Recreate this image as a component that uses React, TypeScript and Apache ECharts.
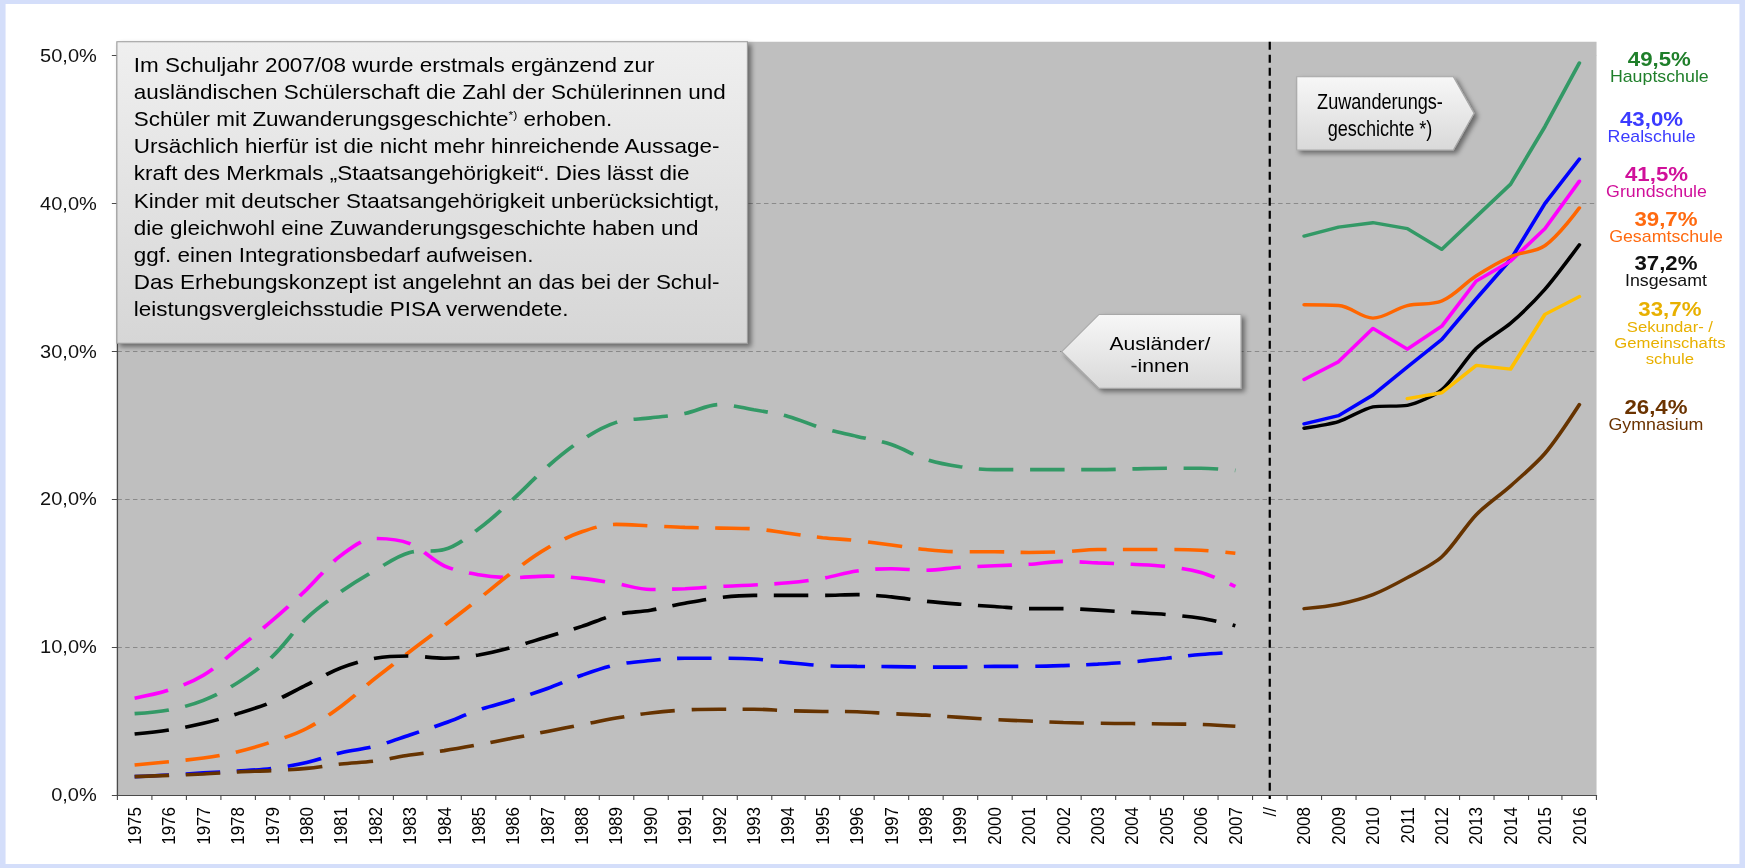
import React, { useEffect, useRef } from 'react';
import * as echarts from 'echarts';

// The reference picture is a 1568px wide chart stretched horizontally to 1745px.
const STRETCH = 1745 / 1568;
const W = 1568;
const H = 868;
const FONT = "'Liberation Sans', Arial, Helvetica, sans-serif";

// ---------- categories ----------
const yearsAuslaender = [
  '1975', '1976', '1977', '1978', '1979', '1980', '1981', '1982', '1983', '1984', '1985',
  '1986', '1987', '1988', '1989', '1990', '1991', '1992', '1993', '1994', '1995', '1996',
  '1997', '1998', '1999', '2000', '2001', '2002', '2003', '2004', '2005', '2006', '2007',
];
const breakLabel = '//';
const yearsZuwanderung = ['2008', '2009', '2010', '2011', '2012', '2013', '2014', '2015', '2016'];
const yearsSekundar = ['2011', '2012', '2013', '2014', '2015', '2016'];

// ---------- values in % : Ausländer/-innen (1975-2007) ----------
const hauptAus = [5.5, 5.75, 6.4, 7.6, 9.35, 11.95, 13.75, 15.2, 16.4, 16.6, 18.0, 20.0, 22.2, 24.0, 25.2, 25.5, 25.8, 26.4, 26.05, 25.6, 24.8, 24.25, 23.7, 22.7, 22.2, 22.0, 22.0, 22.0, 22.0, 22.05, 22.1, 22.1, 21.95];
const realAus = [1.24, 1.35, 1.5, 1.62, 1.8, 2.2, 2.86, 3.3, 4.06, 4.85, 5.75, 6.43, 7.2, 8.1, 8.8, 9.09, 9.25, 9.25, 9.2, 8.95, 8.75, 8.7, 8.68, 8.65, 8.65, 8.7, 8.7, 8.75, 8.85, 9.0, 9.25, 9.5, 9.65];
const grundAus = [6.55, 7.1, 8.1, 9.9, 11.8, 13.9, 16.2, 17.35, 17.0, 15.5, 14.9, 14.7, 14.8, 14.65, 14.3, 13.9, 13.95, 14.1, 14.2, 14.35, 14.65, 15.15, 15.3, 15.2, 15.4, 15.5, 15.6, 15.8, 15.7, 15.6, 15.45, 15.05, 14.1];
const gesamtAus = [2.03, 2.25, 2.5, 2.93, 3.6, 4.5, 6.0, 7.9, 9.7, 11.45, 13.25, 15.1, 16.7, 17.8, 18.3, 18.2, 18.1, 18.05, 18.0, 17.7, 17.4, 17.2, 16.9, 16.6, 16.45, 16.45, 16.4, 16.45, 16.6, 16.6, 16.6, 16.55, 16.35];
const insgAus = [4.13, 4.4, 4.85, 5.5, 6.3, 7.45, 8.6, 9.25, 9.4, 9.25, 9.47, 10.0, 10.7, 11.4, 12.2, 12.5, 12.97, 13.35, 13.5, 13.5, 13.5, 13.55, 13.4, 13.1, 12.9, 12.75, 12.6, 12.6, 12.5, 12.35, 12.2, 11.95, 11.45];
const gymAus = [1.24, 1.33, 1.42, 1.56, 1.65, 1.8, 2.1, 2.3, 2.7, 3.0, 3.4, 3.85, 4.3, 4.75, 5.2, 5.55, 5.75, 5.8, 5.8, 5.7, 5.65, 5.63, 5.5, 5.4, 5.25, 5.1, 5.0, 4.9, 4.85, 4.83, 4.8, 4.77, 4.65];

// ---------- values in % : Zuwanderungsgeschichte (2008-2016) ----------
const hauptZu = [37.8, 38.4, 38.7, 38.3, 36.9, 39.1, 41.3, 45.2, 49.5];
const realZu = [25.1, 25.65, 27.05, 28.95, 30.8, 33.55, 36.2, 40.0, 43.0];
const grundZu = [28.1, 29.3, 31.55, 30.15, 31.7, 34.75, 36.1, 38.3, 41.5];
const gesamtZu = [33.15, 33.1, 32.25, 33.1, 33.4, 35.1, 36.4, 37.15, 39.7];
const insgZu = [24.8, 25.25, 26.25, 26.35, 27.4, 30.2, 31.9, 34.2, 37.2];
const sekZu = [26.8, 27.2, 29.05, 28.8, 32.5, 33.7];
const gymZu = [12.6, 12.9, 13.55, 14.7, 16.1, 18.95, 20.9, 23.1, 26.4];

// ---------- axis ----------
const yMin = 0;
const yMax = 50;
const yInterval = 10;

// ---------- texts ----------
const boxLines = [
  'Im Schuljahr 2007/08 wurde erstmals ergänzend zur',
  'ausländischen Schülerschaft die Zahl der Schülerinnen und',
  'Schüler mit Zuwanderungsgeschichte{sup|*)} erhoben.',
  'Ursächlich hierfür ist die nicht mehr hinreichende Aussage-',
  'kraft des Merkmals „Staatsangehörigkeit“. Dies lässt die',
  'Kinder mit deutscher Staatsangehörigkeit unberücksichtigt,',
  'die gleichwohl eine Zuwanderungsgeschichte haben und',
  'ggf. einen Integrationsbedarf aufweisen.',
  'Das Erhebungskonzept ist angelehnt an das bei der Schul-',
  'leistungsvergleichsstudie PISA verwendete.',
];
const arrowRightText = ['Zuwanderungs-', 'geschichte *)'];
const arrowLeftText = ['Ausländer/', '-innen'];

const fmtPct = (v: number) => v.toFixed(1).replace('.', ',') + '%';

type Sch = {
  name: string[];
  line: string;
  label: string;
  aus: number[] | null;
  zu: number[];
  zuYears: string[];
  smoothZu: number | false;
  lx: number;
  ly: number;
  nameFont: number;
};

const schools: Sch[] = [
  { name: ['Hauptschule'], line: '#339966', label: '#1f7f2a', aus: hauptAus, zu: hauptZu, zuYears: yearsZuwanderung, smoothZu: false, lx: 1491, ly: 58.5, nameFont: 16 },
  { name: ['Realschule'], line: '#0000ff', label: '#3b3bff', aus: realAus, zu: realZu, zuYears: yearsZuwanderung, smoothZu: false, lx: 1484, ly: 118.5, nameFont: 16 },
  { name: ['Grundschule'], line: '#ff00ff', label: '#d0109a', aus: grundAus, zu: grundZu, zuYears: yearsZuwanderung, smoothZu: false, lx: 1488.5, ly: 173.5, nameFont: 16 },
  { name: ['Gesamtschule'], line: '#ff6600', label: '#ff6a10', aus: gesamtAus, zu: gesamtZu, zuYears: yearsZuwanderung, smoothZu: 0.35, lx: 1497, ly: 218.5, nameFont: 16 },
  { name: ['Insgesamt'], line: '#000000', label: '#111111', aus: insgAus, zu: insgZu, zuYears: yearsZuwanderung, smoothZu: 0.25, lx: 1497, ly: 262.5, nameFont: 16 },
  { name: ['Sekundar- /', 'Gemeinschafts', 'schule'], line: '#ffc000', label: '#e8b000', aus: null, zu: sekZu, zuYears: yearsSekundar, smoothZu: false, lx: 1500.5, ly: 308.5, nameFont: 15 },
  { name: ['Gymnasium'], line: '#663300', label: '#6b3300', aus: gymAus, zu: gymZu, zuYears: yearsZuwanderung, smoothZu: 0.3, lx: 1488, ly: 406.5, nameFont: 16 },
];

const categories = [...yearsAuslaender, breakLabel, ...yearsZuwanderung];

function buildSeries() {
  const series: any[] = [];
  schools.forEach((s) => {
    if (s.aus) {
      series.push({
        type: 'line',
        name: s.name.join(' ') + ' (Ausländer)',
        data: yearsAuslaender.map((y, i) => [y, s.aus![i]]),
        symbol: 'none',
        smooth: 0.35,
        lineStyle: { color: s.line, width: 3.6, type: [31, 15], cap: 'butt' },
        z: 3,
      });
    }
    series.push({
      type: 'line',
      name: s.name.join(' ') + ' (Zuwanderung)',
      data: s.zuYears.map((y, i) => [y, s.zu[i]]),
      symbol: 'none',
      smooth: s.smoothZu,
      lineStyle: { color: s.line, width: 3.4, cap: 'round', join: 'round' },
      z: 3,
    });
  });
  return series;
}

function buildGraphics(bx: number) {
  const g: any[] = [];
  // gray plot background strip above 50 %
  g.push({ type: 'rect', silent: true, z: 0, shape: { x: 105.5, y: 41.7, width: 1329.1, height: 14.2 }, style: { fill: '#bfbfbf' } });
  // break line
  g.push({ type: 'line', silent: true, z: 5, shape: { x1: bx, y1: 41.7, x2: bx, y2: 799 }, style: { stroke: '#000', lineWidth: 2, lineDash: [8, 5] } });

  const boxFill = new echarts.graphic.LinearGradient(0, 0, 0, 1, [
    { offset: 0, color: '#efefef' },
    { offset: 1, color: '#d6d6d6' },
  ]);
  const arrowFill = new echarts.graphic.LinearGradient(0, 0, 0, 1, [
    { offset: 0, color: '#f7f7f7' },
    { offset: 1, color: '#d9d9d9' },
  ]);
  const shadow = { shadowBlur: 5, shadowOffsetX: 3, shadowOffsetY: 3, shadowColor: 'rgba(0,0,0,0.45)' };

  // main text box
  g.push({ type: 'rect', silent: true, z: 10, shape: { x: 105, y: 41.7, width: 566.6, height: 301.6 }, style: { fill: boxFill, stroke: '#9c9c9c', lineWidth: 1, ...shadow } });
  boxLines.forEach((t, i) => {
    g.push({
      type: 'text', silent: true, z: 11, x: 120.2, y: 65 + i * 27.2,
      style: {
        text: t, font: `20.2px ${FONT}`, fill: '#000',
        align: 'left', verticalAlign: 'middle', textAlign: 'left', textVerticalAlign: 'middle',
        rich: { sup: { font: `11px ${FONT}`, fill: '#000', verticalAlign: 'top', padding: [0, 0, 8, 0] } },
      },
    });
  });

  // arrow "Zuwanderungsgeschichte" pointing right
  g.push({ type: 'polygon', silent: true, z: 10, shape: { points: [[1165.2, 76.7], [1305.9, 76.7], [1324.5, 113.3], [1305.9, 150], [1165.2, 150]] }, style: { fill: arrowFill, stroke: '#a8a8a8', lineWidth: 1, ...shadow } });
  arrowRightText.forEach((t, i) => {
    g.push({ type: 'text', silent: true, z: 11, x: 1240, y: 101.7 + i * 26.6, scaleX: 0.74, style: { text: t, font: `22px ${FONT}`, fill: '#000', align: 'center', verticalAlign: 'middle', textAlign: 'center', textVerticalAlign: 'middle' } });
  });

  // arrow "Ausländer/-innen" pointing left
  g.push({ type: 'polygon', silent: true, z: 10, shape: { points: [[987.5, 314.5], [1115.1, 314.5], [1115.1, 388.3], [987.5, 388.3], [954, 351.7]] }, style: { fill: arrowFill, stroke: '#a8a8a8', lineWidth: 1, ...shadow } });
  arrowLeftText.forEach((t, i) => {
    g.push({ type: 'text', silent: true, z: 11, x: 1042.3, y: 343.3 + i * 21.8, style: { text: t, font: `19px ${FONT}`, fill: '#000', align: 'center', verticalAlign: 'middle', textAlign: 'center', textVerticalAlign: 'middle' } });
  });

  // right labels
  schools.forEach((s) => {
    const last = s.zu[s.zu.length - 1];
    g.push({ type: 'text', silent: true, z: 11, x: s.lx, y: s.ly, style: { text: fmtPct(last), font: `bold 20px ${FONT}`, fill: s.label, align: 'center', verticalAlign: 'middle', textAlign: 'center', textVerticalAlign: 'middle' } });
    s.name.forEach((n, j) => {
      g.push({ type: 'text', silent: true, z: 11, x: s.lx, y: s.ly + 18.3 + j * 16, style: { text: n, font: `${s.nameFont}px ${FONT}`, fill: s.label, align: 'center', verticalAlign: 'middle', textAlign: 'center', textVerticalAlign: 'middle' } });
    });
  });
  return g;
}

export default function App() {
  const ref = useRef<HTMLDivElement>(null);
  useEffect(() => {
    if (!ref.current) return;
    const chart = echarts.init(ref.current, null, { renderer: 'svg' });
    chart.setOption({
      animation: false,
      backgroundColor: 'transparent',
      textStyle: { fontFamily: FONT },
      grid: { left: 105.5, right: W - 1434.6, top: 55.6, bottom: H - 795, show: true, backgroundColor: '#bfbfbf', borderWidth: 0 },
      xAxis: {
        type: 'category',
        data: categories,
        boundaryGap: true,
        axisLine: { show: true, lineStyle: { color: '#4a4a4a', width: 1.2 } },
        axisTick: { show: true, interval: 0, length: 5, lineStyle: { color: '#4a4a4a' } },
        axisLabel: { interval: 0, rotate: 90, margin: 12, fontSize: 17, color: '#000', fontFamily: FONT },
        splitLine: { show: false },
      },
      yAxis: {
        type: 'value',
        min: yMin,
        max: yMax,
        interval: yInterval,
        axisLine: { show: true, lineStyle: { color: '#4a4a4a', width: 1.2 } },
        axisTick: { show: true, length: 5, lineStyle: { color: '#4a4a4a' } },
        axisLabel: { margin: 18.5, fontSize: 18, color: '#111', fontFamily: FONT, formatter: (v: number) => fmtPct(v) },
        splitLine: { show: true, lineStyle: { color: '#8a8a8a', width: 1, type: [4, 3] } },
      },
      series: buildSeries(),
    });
    const bx = chart.convertToPixel({ xAxisIndex: 0 }, breakLabel) as number;
    chart.setOption({ graphic: buildGraphics(bx) });
    return () => chart.dispose();
  }, []);

  return (
    <div style={{ position: 'fixed', left: 0, top: 0, width: W, height: H, background: '#d4defa', transform: `scaleX(${STRETCH})`, transformOrigin: '0 0', overflow: 'hidden' }}>
      <div style={{ position: 'absolute', left: 5.4, top: 4, width: 1558, height: 860, background: '#ffffff' }} />
      <div ref={ref} style={{ position: 'absolute', left: 0, top: 0, width: W, height: H }} />
    </div>
  );
}
